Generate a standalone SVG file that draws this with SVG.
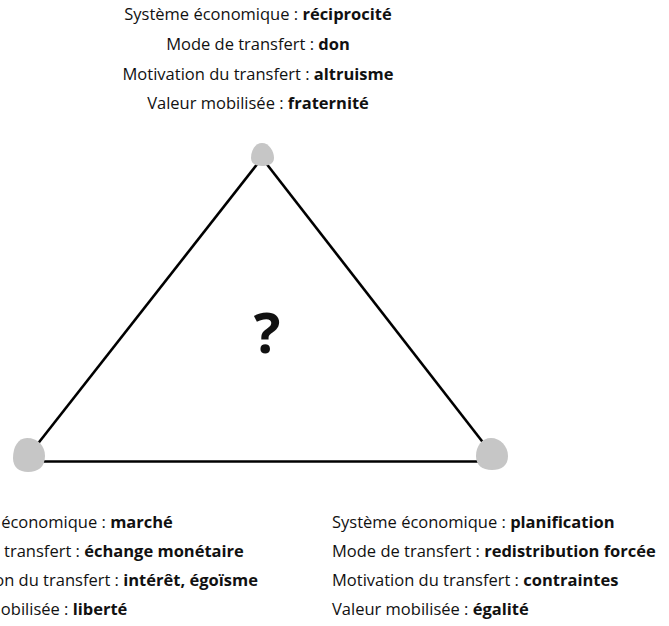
<svg xmlns="http://www.w3.org/2000/svg" width="669" height="626" viewBox="0 0 669 626">
<style>
text{font-family:"Open Sans","Noto Sans",sans-serif;font-size:16.5px;fill:#111}
.b{font-weight:bold}
.c{text-anchor:middle}
.edge{stroke:#000;stroke-width:2.6;fill:none}
.blob{fill:#c6c6c6}
</style>
<rect width="669" height="626" fill="#fff"/>
<g id="connectors">
<line class="edge" x1="262" y1="158" x2="29" y2="455"/>
<line class="edge" x1="262" y1="158" x2="492" y2="454"/>
<line class="edge" x1="29" y1="461.5" x2="492" y2="461.5"/>
</g>
<g id="node-top">
<path class="blob" d="M262 143 C269 143 274 151 274 158 C274 164 268 166 262 166 C256 166 251 164 251 158 C251 151 255 143 262 143 Z"/>
<text class="c" x="258" y="20">Système économique : <tspan class="b">réciprocité</tspan></text>
<text class="c" x="258" y="50">Mode de transfert : <tspan class="b">don</tspan></text>
<text class="c" x="258" y="80">Motivation du transfert : <tspan class="b">altruisme</tspan></text>
<text class="c" x="258" y="109">Valeur mobilisée : <tspan class="b">fraternité</tspan></text>
</g>
<g id="node-left">
<path class="blob" d="M27 438 C38 438 45 446 45 456 C45 467 38 472 28 472 C19 472 13 467 13 458 C13 447 18 438 27 438 Z"/>
<text x="-68" y="528">Système économique : <tspan class="b">marché</tspan></text>
<text x="-68" y="557">Mode de transfert : <tspan class="b">échange monétaire</tspan></text>
<text x="-68" y="586">Motivation du transfert : <tspan class="b">intérêt, égoïsme</tspan></text>
<text x="-68" y="615">Valeur mobilisée : <tspan class="b">liberté</tspan></text>
</g>
<g id="node-right">
<path class="blob" d="M491 438 C500 438 508 446 508 456 C508 466 501 470 492 470 C482 470 476 465 476 456 C476 446 482 438 491 438 Z"/>
<text x="332" y="528">Système économique : <tspan class="b">planification</tspan></text>
<text x="332" y="557">Mode de transfert : <tspan class="b">redistribution forcée</tspan></text>
<text x="332" y="586">Motivation du transfert : <tspan class="b">contraintes</tspan></text>
<text x="332" y="615">Valeur mobilisée : <tspan class="b">égalité</tspan></text>
</g>
<g id="center">
<text class="c b" x="267" y="353" style="font-size:56px">?</text>
</g>
</svg>
